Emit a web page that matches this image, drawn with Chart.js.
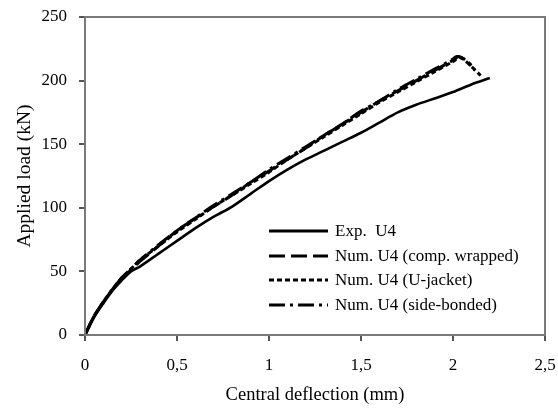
<!DOCTYPE html>
<html>
<head>
<meta charset="utf-8">
<script src="https://cdn.jsdelivr.net/npm/chart.js@4/dist/chart.umd.min.js"></script>
<style>
  html, body { margin: 0; padding: 0; background: #fff; }
  #wrap { width: 558px; height: 408px; }
</style>
</head>
<body>
<div id="wrap"><canvas id="chart" width="558" height="408"></canvas></div>
<script>
// --- load / deflection curves (mm, kN) ---
const expX = [0, 0.05, 0.1, 0.15, 0.2, 0.25, 0.3, 0.4, 0.5, 0.6, 0.7, 0.8, 0.9, 1.0, 1.1, 1.2, 1.3, 1.4, 1.5, 1.6, 1.7, 1.8, 1.9, 2.0, 2.1, 2.2];
const expY = [0, 14, 25, 35, 43, 50, 54, 64, 74, 84, 93, 101, 111, 121, 130, 138, 145, 152, 159, 167, 175, 181, 186, 191, 197, 202];

const wrapX = [0, 0.05, 0.1, 0.15, 0.2, 0.25, 0.3, 0.4, 0.5, 0.6, 0.7, 0.8, 0.9, 1.0, 1.1, 1.2, 1.3, 1.4, 1.5, 1.6, 1.7, 1.8, 1.9, 2.0, 2.03, 2.07, 2.1];
const wrapY = [0, 15, 26, 36, 45, 51, 58, 70, 82, 92, 101, 110, 120, 129, 138, 147, 157, 166, 175, 184, 192, 200, 208, 216, 219, 216, 212];

const jacketX = [0, 0.05, 0.1, 0.15, 0.2, 0.25, 0.3, 0.4, 0.5, 0.6, 0.7, 0.8, 0.9, 1.0, 1.1, 1.2, 1.3, 1.4, 1.5, 1.6, 1.7, 1.8, 1.9, 2.0, 2.04, 2.1, 2.15];
const jacketY = [0, 15, 26, 36, 45, 52, 59, 70, 81, 91, 101, 110, 119, 128, 138, 147, 156, 165, 174, 183, 191, 199, 207, 215, 218, 211, 204];

const sideX = [0, 0.05, 0.1, 0.15, 0.2, 0.25, 0.3, 0.4, 0.5, 0.6, 0.7, 0.8, 0.9, 1.0, 1.1, 1.2, 1.3, 1.4, 1.5, 1.6, 1.7, 1.8, 1.9, 2.0, 2.02, 2.06, 2.12];
const sideY = [0, 15, 26, 36, 45, 52, 59, 71, 82, 92, 102, 111, 120, 130, 139, 148, 157, 166, 176, 184, 193, 201, 209, 217, 219, 217, 208];

const seriesLabels = ['Exp.  U4', 'Num. U4 (comp. wrapped)', 'Num. U4 (U-jacket)', 'Num. U4 (side-bonded)'];
const seriesDash = [[], [16, 6], [5, 3], [16, 5, 3, 5]];

const xTicks = [0, 0.5, 1, 1.5, 2, 2.5];
const yTicks = [0, 50, 100, 150, 200, 250];

const FONT = '"Liberation Serif", "Times New Roman", serif';

function pts(xs, ys) {
  return xs.map((x, i) => ({ x: x, y: ys[i] }));
}

const curves = [[expX, expY], [wrapX, wrapY], [jacketX, jacketY], [sideX, sideY]];
const datasets = curves.map((c, i) => ({
  label: seriesLabels[i],
  data: pts(c[0], c[1]),
  borderColor: '#000',
  borderWidth: i === 0 ? 2.6 : 3,
  borderDash: seriesDash[i],
  pointRadius: 0,
  tension: 0.3,
  fill: false
}));

// frame around the plot area (top and right sides included)
const frame = {
  id: 'frame',
  afterDraw(chart) {
    const { ctx, chartArea: a } = chart;
    ctx.save();
    ctx.strokeStyle = '#7a7a7a';
    ctx.lineWidth = 2;
    ctx.strokeRect(a.left, a.top, a.right - a.left, a.bottom - a.top);
    ctx.restore();
  }
};

// legend drawn inside the plot, one line sample per dataset
const innerLegend = {
  id: 'innerLegend',
  afterDraw(chart) {
    const { ctx } = chart;
    const x0 = 269, x1 = 328, tx = 335;
    const rows = [231, 256, 280, 305];
    ctx.save();
    ctx.font = '17px ' + FONT;
    ctx.fillStyle = '#000';
    ctx.textBaseline = 'middle';
    chart.data.datasets.forEach((ds, i) => {
      ctx.beginPath();
      ctx.setLineDash(ds.borderDash);
      ctx.lineWidth = 3;
      ctx.strokeStyle = '#000';
      ctx.moveTo(x0, rows[i]);
      ctx.lineTo(x1, rows[i]);
      ctx.stroke();
      ctx.setLineDash([]);
      ctx.fillText(ds.label, tx, rows[i] + 1);
    });
    ctx.restore();
  }
};

new Chart(document.getElementById('chart'), {
  type: 'line',
  data: { datasets: datasets },
  options: {
    responsive: false,
    animation: false,
    devicePixelRatio: 1,
    layout: { padding: { top: 17, right: 13, left: 0, bottom: 0 } },
    plugins: { legend: { display: false }, tooltip: { enabled: false } },
    scales: {
      x: {
        type: 'linear',
        min: 0,
        max: 2.5,
        // fixed axis box; labels may overhang the plot edges
        afterFit(scale) {
          scale.height = 73;
          scale.paddingLeft = 0;
          scale.paddingRight = 0;
        },
        afterBuildTicks(scale) { scale.ticks = xTicks.map(v => ({ value: v })); },
        border: { color: '#555', width: 2 },
        grid: { drawOnChartArea: false, drawTicks: true, tickLength: 6, color: '#555', lineWidth: 2 },
        ticks: {
          color: '#000',
          padding: 14,
          font: { family: FONT, size: 17 },
          callback: v => String(v).replace('.', ',')
        },
        title: {
          display: true,
          text: 'Central deflection (mm)',
          color: '#000',
          font: { family: FONT, size: 18.5 },
          padding: { top: 0, bottom: 2 }
        }
      },
      y: {
        min: 0,
        max: 250,
        afterFit(scale) {
          scale.width = 85;
          scale.paddingTop = 0;
          scale.paddingBottom = 0;
        },
        afterBuildTicks(scale) { scale.ticks = yTicks.map(v => ({ value: v })); },
        border: { color: '#555', width: 2 },
        grid: { drawOnChartArea: false, drawTicks: true, tickLength: 6, color: '#555', lineWidth: 2 },
        ticks: {
          color: '#000',
          padding: 12,
          font: { family: FONT, size: 17 }
        },
        title: {
          display: true,
          text: 'Applied load (kN)',
          color: '#000',
          font: { family: FONT, size: 19.5 },
          padding: { top: 13, bottom: 6 }
        }
      }
    }
  },
  plugins: [frame, innerLegend]
});
</script>
</body>
</html>
